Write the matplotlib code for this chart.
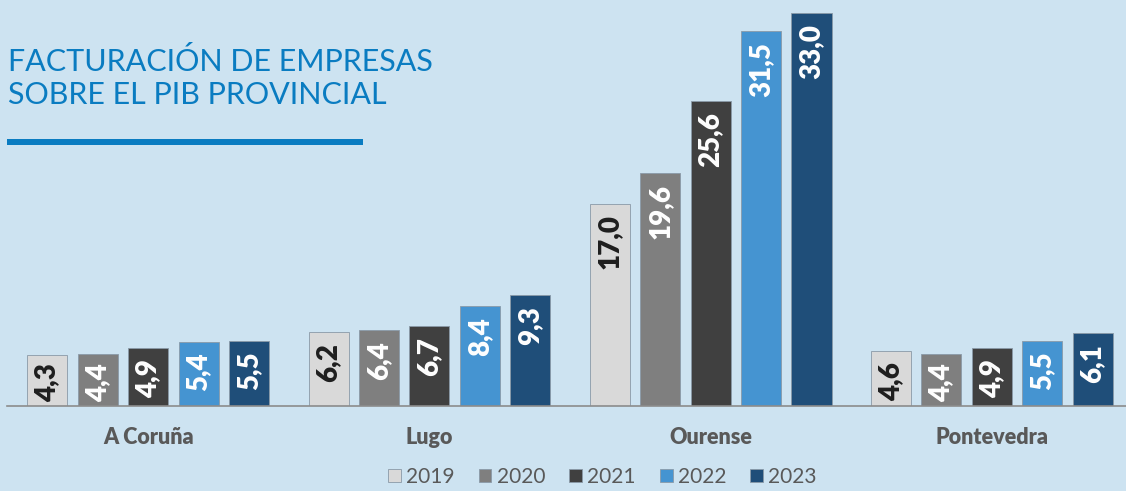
import matplotlib
matplotlib.use('Agg')
import matplotlib.pyplot as plt
from matplotlib.patches import Rectangle
import numpy as np

provinces = ['A Coruña', 'Lugo', 'Ourense', 'Pontevedra']
years = ['2019', '2020', '2021', '2022', '2023']
v2019 = [4.3, 6.2, 17.0, 4.6]
v2020 = [4.4, 6.4, 19.6, 4.4]
v2021 = [4.9, 6.7, 25.6, 4.9]
v2022 = [5.4, 8.4, 31.5, 5.5]
v2023 = [5.5, 9.3, 33.0, 6.1]
series = [v2019, v2020, v2021, v2022, v2023]

colors = ['#d9d9d9', '#7f7f7f', '#404040', '#4594d1', '#1f4e79']
label_colors = ['#1e1e1e', 'white', 'white', 'white', 'white']
bg = '#cde3f1'

plt.rcParams['font.family'] = ['Lato', 'DejaVu Sans']

W, H = 1126, 491
fig = plt.figure(figsize=(W / 100, H / 100), dpi=100, facecolor=bg)
ax = fig.add_axes([7 / W, 1 - 406 / H, 1 - 7 / W, (406 - 13) / H])
ax.set_facecolor(bg)

x = np.arange(len(provinces))
step = 50.4 / 281
width = 40 / 281
bars_all = []
for i, vals in enumerate(series):
    pos = x + (i - 2) * step
    bars = ax.bar(pos, vals, width=width, color=colors[i], edgecolor='#8a9aa8',
                  linewidth=0.6, label=years[i], zorder=2)
    bars_all.append(bars)

ax.set_xlim(-0.502, 3.477)
ax.set_ylim(0, 33.0)
for s in ['top', 'right', 'left']:
    ax.spines[s].set_visible(False)
ax.spines['bottom'].set_color('#8c8c8c')
ax.spines['bottom'].set_linewidth(1.2)
ax.set_yticks([])
ax.set_xticks(x)
ax.set_xticklabels(provinces, fontsize=15.5, fontweight='heavy', color='#595959')
ax.tick_params(axis='x', length=0, pad=15)

# value labels inside bars, rotated
fig.canvas.draw()
renderer = fig.canvas.get_renderer()
for i, bars in enumerate(bars_all):
    for b, v in zip(bars, series[i]):
        cx = b.get_x() + b.get_width() / 2
        t = ax.text(cx, v, f'{v:.1f}'.replace('.', ','), rotation=90,
                    ha='center', va='top', fontsize=20, fontweight='heavy',
                    color=label_colors[i], zorder=3)
        ext = t.get_window_extent(renderer)
        top_px = ax.transData.transform((cx, v))[1]
        base_px = ax.transData.transform((cx, 0))[1]
        txt_h = ext.height
        off = 11
        if top_px - off - txt_h < base_px + 4:
            new_top = base_px + 4 + txt_h
        else:
            new_top = top_px - off
        yd = ax.transData.inverted().transform((0, new_top))[1]
        t.set_position((cx, yd))

# title
fig.text(8 / W, 1 - 71 / H, 'FACTURACIÓN DE EMPRESAS', fontsize=22,
         color='#0a7cc1', ha='left', va='baseline')
fig.text(8 / W, 1 - 104 / H, 'SOBRE EL PIB PROVINCIAL', fontsize=22,
         color='#0a7cc1', ha='left', va='baseline')
fig.add_artist(Rectangle((7 / W, 1 - 145 / H), (363 - 7) / W, 6 / H,
                         transform=fig.transFigure, color='#0a7cc1', lw=0))

leg = fig.legend(loc='lower center', bbox_to_anchor=(0.535, -0.03), ncol=5,
                 frameon=False, fontsize=15, handlelength=0.62,
                 handleheight=0.62, handletextpad=0.25, columnspacing=1.15)
for t in leg.get_texts():
    t.set_color('#595959')

fig.savefig('out.png', dpi=100, facecolor=bg)
plt.close(fig)
